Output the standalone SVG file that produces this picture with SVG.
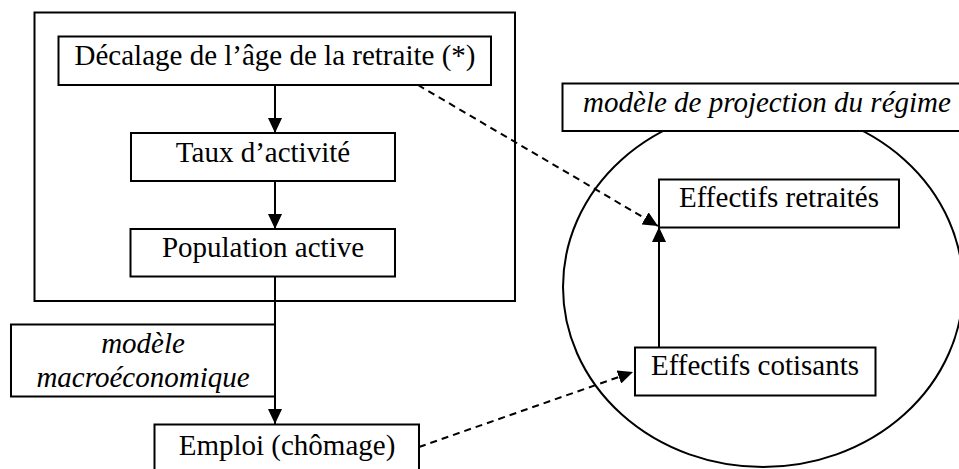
<svg xmlns="http://www.w3.org/2000/svg" width="959" height="469" viewBox="0 0 959 469">
<style>
  .box { fill: #fff; stroke: #000; stroke-width: 2; }
  .frame { fill: none; stroke: #000; stroke-width: 2; }
  .t { font-family: "Liberation Serif", "Times New Roman", serif; font-size: 29px; fill: #000; text-anchor: middle; }
  .i { font-style: italic; }
  .c { stroke: #000; stroke-width: 2; fill: none; }
  .d { stroke-dasharray: 7 5; }
</style>
<defs>
  <marker id="ah" markerUnits="userSpaceOnUse" markerWidth="15" markerHeight="14" refX="15" refY="7" orient="auto">
    <path d="M0,0 L15,7 L0,14 z" fill="#000"/>
  </marker>
</defs>
<rect width="959" height="469" fill="#fff"/>
<g id="frame-left"><rect class="frame" x="34.5" y="12.5" width="480.5" height="288.5"/></g>
<g id="regime-ellipse"><ellipse class="frame" cx="763" cy="287" rx="200" ry="180"/></g>
<g id="connectors">
  <line class="c" x1="275" y1="85" x2="275" y2="133" marker-end="url(#ah)"/>
  <line class="c" x1="275" y1="181" x2="275" y2="229" marker-end="url(#ah)"/>
  <line class="c" x1="275" y1="277" x2="275" y2="424" marker-end="url(#ah)"/>
  <line class="c" x1="659" y1="347" x2="659" y2="227" marker-end="url(#ah)"/>
  <line class="c d" x1="418" y1="85" x2="658" y2="226" marker-end="url(#ah)"/>
  <line class="c d" x1="419" y1="447" x2="633" y2="372" marker-end="url(#ah)"/>
</g>
<g id="n-decalage"><rect class="box" x="58.5" y="36.5" width="432.5" height="48.5"/><text class="t" x="275" y="65">Décalage de l’âge de la retraite (*)</text></g>
<g id="n-taux"><rect class="box" x="131" y="133" width="264" height="48"/><text class="t" x="263" y="161.5">Taux d’activité</text></g>
<g id="n-population"><rect class="box" x="130.5" y="229" width="264.5" height="47.5"/><text class="t" x="263" y="256.5">Population active</text></g>
<g id="n-macro"><rect class="box" x="11" y="324.5" width="264" height="72"/><text class="t i" x="143" y="353">modèle</text><text class="t i" x="143" y="386.5">macroéconomique</text></g>
<g id="n-emploi"><rect class="box" x="154.5" y="424.5" width="264.5" height="50"/><text class="t" x="287" y="455">Emploi (chômage)</text></g>
<g id="n-projection"><rect class="box" x="562.5" y="83.5" width="400" height="47.5"/><text class="t i" x="767" y="111.5">modèle de projection du régime</text></g>
<g id="n-retraites"><rect class="box" x="659" y="179.5" width="240" height="48"/><text class="t" x="779" y="207">Effectifs retraités</text></g>
<g id="n-cotisants"><rect class="box" x="635" y="347.5" width="240.5" height="48"/><text class="t" x="755" y="375">Effectifs cotisants</text></g>
</svg>
